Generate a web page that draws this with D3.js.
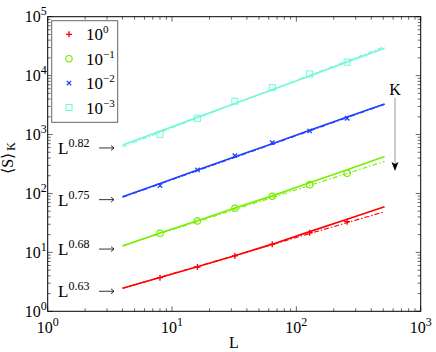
<!DOCTYPE html>
<html>
<head>
<meta charset="utf-8">
<script src="https://cdn.jsdelivr.net/npm/d3@7"></script>
<style>
body { margin: 0; background: #fff; }
text { font-family: "Liberation Serif", "DejaVu Serif", serif; fill: #000; }
</style>
</head>
<body>
<div id="chart"></div>
<script>
// system sizes and the K values of each series
var sizes = [4, 8, 16, 32, 64, 128, 256, 512];
var markerSizes = [8, 16, 32, 64, 128, 256];
var kExponents = ["0", "\u22121", "\u22122", "\u22123"];
var colors = ["#ff0000", "#77ee00", "#1f3fff", "#70f8d8"];
var symbols = ["plus", "circle", "cross", "square"];
var fitExponents = ["0.63", "0.68", "0.75", "0.82"];

// <S>_K curves (solid), one array per K, at each L in sizes
var curveK0 = [2.46, 3.75, 5.7, 8.8, 13.8, 22.5, 36.5, 59.7];
var curveK1 = [12.8, 21.3, 34.5, 56.5, 91, 152, 252, 422];
var curveK2 = [88.3, 148, 250, 418, 701, 1178, 1976, 3310];
var curveK3 = [666, 1142, 1960, 3360, 5760, 9880, 16950, 29200];

// symbols, at each L in markerSizes
var pointsK0 = [3.72, 5.65, 8.69, 13.7, 21.6, 33.2];
var pointsK1 = [21.1, 34.1, 56, 89.6, 141, 220];
var pointsK2 = [136, 251, 438, 729, 1151, 1890];
var pointsK3 = [1010, 1890, 3675, 6250, 10700, 16900];

// power-law fits (dash-dot), values at L = 4 and L = 512
var fitK0 = [2.46, 49];
var fitK1 = [13, 350];
var fitK2 = [86, 3250];
var fitK3 = [620, 31000];

var curves = [curveK0, curveK1, curveK2, curveK3];
var points = [pointsK0, pointsK1, pointsK2, pointsK3];
var fits = [fitK0, fitK1, fitK2, fitK3];

function drawChart() {
    "use strict";
    var width = 436, height = 352;
    var margin = {left: 47.7, right: 15.3, top: 16.7, bottom: 40.7};
    var w = width - margin.left - margin.right;
    var h = height - margin.top - margin.bottom;

    var svg = d3.select("#chart").append("svg")
        .attr("width", width)
        .attr("height", height)
        .attr("font-family", "Liberation Serif, DejaVu Serif, serif");
    var g = svg.append("g")
        .attr("transform", "translate(" + margin.left + "," + margin.top + ")");

    var x = d3.scaleLog().domain([1, 1000]).range([0, w]);
    var y = d3.scaleLog().domain([1, 1e5]).range([h, 0]);

    // ticks on all four sides, pointing inward
    function logTicks(lo, hi) {
        var out = [];
        for (var e = lo; e < hi; e++) {
            for (var m = 1; m < 10; m++) {
                out.push({v: m * Math.pow(10, e), major: m === 1});
            }
        }
        out.push({v: Math.pow(10, hi), major: true});
        return out;
    }
    var tickG = g.append("g").attr("stroke", "#000").attr("stroke-width", 0.6);
    logTicks(0, 3).forEach(function(t) {
        var px = x(t.v), len = t.major ? 5 : 3;
        tickG.append("line").attr("x1", px).attr("x2", px).attr("y1", h).attr("y2", h - len);
        tickG.append("line").attr("x1", px).attr("x2", px).attr("y1", 0).attr("y2", len);
    });
    logTicks(0, 5).forEach(function(t) {
        var py = y(t.v), len = t.major ? 5 : 3;
        tickG.append("line").attr("x1", 0).attr("x2", len).attr("y1", py).attr("y2", py);
        tickG.append("line").attr("x1", w).attr("x2", w - len).attr("y1", py).attr("y2", py);
    });

    g.append("rect")
        .attr("width", w).attr("height", h)
        .attr("fill", "none").attr("stroke", "#000").attr("stroke-width", 1);

    // tick labels as powers of ten
    function powLabel(sel, exp, supSize) {
        sel.append("tspan").text("10");
        sel.append("tspan").attr("font-size", supSize).attr("dy", -7).text(exp);
    }
    [0, 1, 2, 3].forEach(function(e) {
        var t = g.append("text")
            .attr("x", x(Math.pow(10, e)))
            .attr("y", h + 22)
            .attr("text-anchor", "middle")
            .attr("font-size", 16);
        powLabel(t, String(e), 12);
    });
    [0, 1, 2, 3, 4, 5].forEach(function(e) {
        var t = g.append("text")
            .attr("x", -1)
            .attr("y", y(Math.pow(10, e)) + 5.5)
            .attr("text-anchor", "end")
            .attr("font-size", 16);
        powLabel(t, String(e), 12);
    });

    // axis titles
    svg.append("text")
        .attr("x", 234).attr("y", 348)
        .attr("text-anchor", "middle")
        .attr("font-size", 16)
        .text("L");
    var yl = svg.append("text")
        .attr("transform", "translate(13,158) rotate(-90)")
        .attr("text-anchor", "middle")
        .attr("font-size", 16);
    yl.append("tspan").text("\u27E8S\u27E9");
    yl.append("tspan").attr("font-size", 12).attr("dx", 2).attr("dy", 2).text("K");

    // curves, fits and symbols
    var line = d3.line()
        .x(function(d) { return x(d[0]); })
        .y(function(d) { return y(d[1]); });
    var symbolFor = {
        plus: function(s, cx, cy, c) {
            s.append("path")
                .attr("d", "M" + (cx - 3) + "," + cy + "h6M" + cx + "," + (cy - 3) + "v6")
                .attr("stroke", c).attr("stroke-width", 1.3).attr("fill", "none");
        },
        circle: function(s, cx, cy, c) {
            s.append("circle").attr("cx", cx).attr("cy", cy).attr("r", 3.2)
                .attr("stroke", c).attr("stroke-width", 1.2).attr("fill", "none");
        },
        cross: function(s, cx, cy, c) {
            s.append("path")
                .attr("d", "M" + (cx - 2.2) + "," + (cy - 2.2) + "l4.4,4.4M" +
                    (cx + 2.2) + "," + (cy - 2.2) + "l-4.4,4.4")
                .attr("stroke", c).attr("stroke-width", 1.3).attr("fill", "none");
        },
        square: function(s, cx, cy, c) {
            s.append("rect").attr("x", cx - 3).attr("y", cy - 3)
                .attr("width", 6).attr("height", 6)
                .attr("stroke", c).attr("stroke-width", 1).attr("fill", "none");
        }
    };

    curves.forEach(function(vals, i) {
        var fitPts = [[sizes[0], fits[i][0]], [sizes[sizes.length - 1], fits[i][1]]];
        g.append("path")
            .attr("d", line(fitPts))
            .attr("fill", "none")
            .attr("stroke", colors[i])
            .attr("stroke-width", 1.1)
            .attr("stroke-dasharray", "5,2,1.5,2");
        g.append("path")
            .attr("d", line(sizes.map(function(L, j) { return [L, vals[j]]; })))
            .attr("fill", "none")
            .attr("stroke", colors[i])
            .attr("stroke-width", 1.6);
        markerSizes.forEach(function(L, j) {
            symbolFor[symbols[i]](g, x(L), y(points[i][j]), colors[i]);
        });

        // L^a -> annotation left of the curve start
        var ly = margin.top + y(vals[0]);
        var t = svg.append("text")
            .attr("x", 58).attr("y", ly + 9)
            .attr("font-size", 17);
        t.append("tspan").text("L");
        t.append("tspan").attr("font-size", 12).attr("dy", -7).text(fitExponents[i]);
        svg.append("path")
            .attr("d", "M99," + (ly + 3) + "h15M111," + (ly + 0.5) + "l3,2.5l-3,2.5")
            .attr("fill", "none").attr("stroke", "#000").attr("stroke-width", 0.8);
    });

    // legend
    var leg = svg.append("g");
    leg.append("rect")
        .attr("x", 51.7).attr("y", 20.7).attr("width", 66).attr("height", 101.6)
        .attr("fill", "#fff").attr("stroke", "#666").attr("stroke-width", 1);
    kExponents.forEach(function(e, i) {
        var ry = 34.3 + i * 24.4;
        symbolFor[symbols[i]](leg, 69, ry, colors[i]);
        var t = leg.append("text")
            .attr("x", 86).attr("y", ry + 6)
            .attr("font-size", 17);
        powLabel(t, e, 11);
    });

    // K arrow
    svg.append("text")
        .attr("x", 395).attr("y", 95)
        .attr("text-anchor", "middle")
        .attr("font-size", 16)
        .text("K");
    svg.append("line")
        .attr("x1", 395).attr("x2", 395).attr("y1", 98).attr("y2", 164)
        .attr("stroke", "#999").attr("stroke-width", 1);
    svg.append("path")
        .attr("d", "M391.5,162L395,171L398.5,162L395,164Z")
        .attr("fill", "#000");
}

drawChart();
</script>
</body>
</html>
